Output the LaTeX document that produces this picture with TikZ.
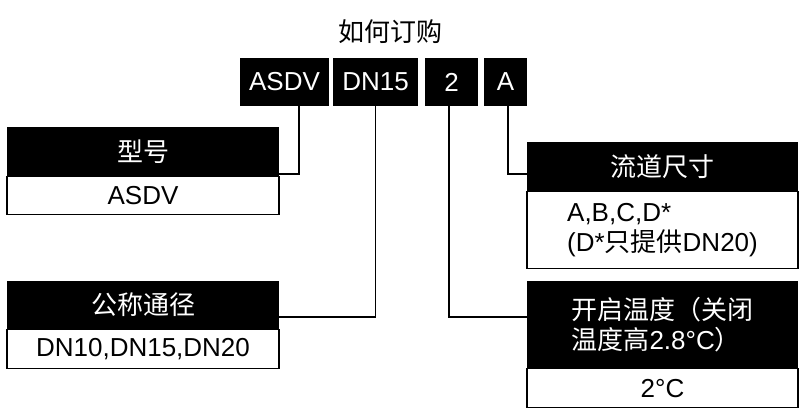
\documentclass[tikz,border=0pt]{standalone}
\usepackage{fontspec}
\setmainfont{Liberation Sans}
\newfontfamily\cjk{Noto Sans CJK SC}
\begin{document}
\begin{tikzpicture}[x=1pt,y=-1pt,
  blk/.style={fill=black,text=white,inner sep=0pt,font=\fontsize{26}{30}\selectfont},
  wht/.style={draw=black,line width=1.2pt,fill=white,inner sep=0pt,font=\fontsize{26}{30}\selectfont},
  ln/.style={line width=1.2pt}]
\useasboundingbox (0,0) rectangle (800,409);
\node[font=\fontsize{26}{30}\selectfont\cjk] (title) at (390,32) {如何订购};
% top code boxes
\node[blk,minimum width=89pt,minimum height=48pt] (c1) at (284.5,82) {ASDV};
\node[blk,minimum width=85pt,minimum height=48pt] (c2) at (375.5,82) {DN15};
\node[blk,minimum width=53pt,minimum height=48pt] (c3) at (451.5,82) {2};
\node[blk,minimum width=43pt,minimum height=48pt] (c4) at (505.5,82) {A};
% left boxes
\node[blk,minimum width=272pt,minimum height=49pt] (h1) at (143,151.5) {\cjk 型号};
\node[wht,minimum width=272pt,minimum height=38pt,anchor=north] (b1) at (h1.south) {ASDV};
\node[blk,minimum width=272pt,minimum height=48pt] (h2) at (143,305) {\cjk 公称通径};
\node[wht,minimum width=272pt,minimum height=39pt,anchor=north] (b2) at (h2.south) {DN10,DN15,DN20};
% right boxes
\node[blk,minimum width=271pt,minimum height=49pt] (h3) at (662.5,166.5) {\cjk 流道尺寸};
\node[wht,minimum width=271pt,minimum height=77pt,anchor=north,align=left] (b3) at (h3.south) {A,B,C,D*\\(D*{\cjk 只提供}DN20)};
\node[blk,minimum width=271pt,minimum height=87pt,align=left] (h4) at (662.5,324.5) {{\cjk 开启温度（关闭}\\{\cjk 温度高}2.8°C{\cjk ）}};
\node[wht,minimum width=271pt,minimum height=39pt,anchor=north] (b4) at (h4.south) {2°C};
% connectors
\draw[ln] (c1.south -| 299,0) |- (h1.east |- 0,174);
\draw[ln] (c2.south) |- (h2.east |- 0,317);
\draw[ln] (c3.south -| 449,0) |- (h4.west |- 0,317);
\draw[ln] (c4.south -| 508,0) |- (h3.west |- 0,174);
\end{tikzpicture}
\end{document}
